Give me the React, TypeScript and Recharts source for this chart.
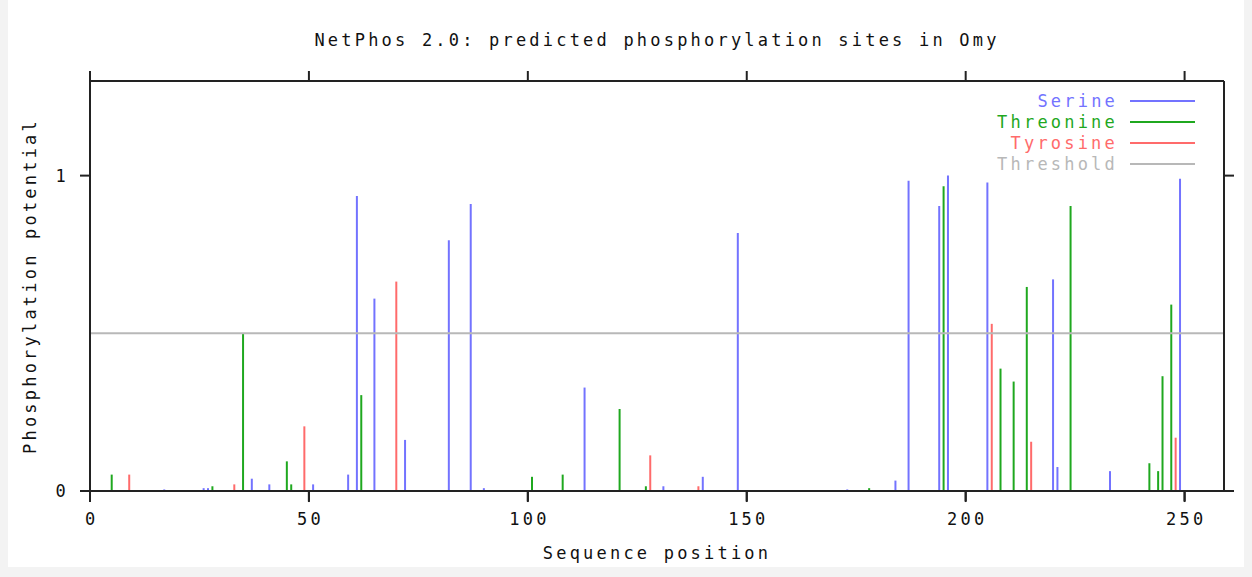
import React from 'react'
import { BarChart, Bar, XAxis, YAxis, ReferenceLine, Legend } from 'recharts'

const seqLength = 259
const threshold = 0.5

const serinePos = [17, 26, 27, 37, 41, 51, 59, 61, 65, 72, 82, 87, 90, 113, 131, 140, 148, 173, 184, 187, 194, 196, 205, 220, 221, 233, 249]
const serineScore = [0.005, 0.009, 0.009, 0.039, 0.021, 0.021, 0.052, 0.935, 0.61, 0.162, 0.795, 0.91, 0.009, 0.328, 0.015, 0.045, 0.818, 0.005, 0.033, 0.984, 0.904, 1.0, 0.978, 0.671, 0.076, 0.063, 0.99]

const threoninePos = [5, 28, 35, 45, 46, 62, 101, 108, 121, 127, 178, 195, 208, 211, 214, 224, 242, 244, 245, 247]
const threonineScore = [0.052, 0.015, 0.498, 0.094, 0.021, 0.304, 0.045, 0.052, 0.26, 0.015, 0.009, 0.966, 0.388, 0.347, 0.647, 0.904, 0.088, 0.063, 0.364, 0.591]

const tyrosinePos = [9, 33, 49, 70, 128, 139, 206, 215, 248]
const tyrosineScore = [0.052, 0.021, 0.205, 0.664, 0.113, 0.015, 0.53, 0.156, 0.169]

const xTicks = [0, 50, 100, 150, 200, 250]
const yTicks = [0, 1]

const COLORS = {
    serine: '#7373ff',
    threonine: '#1fa81f',
    tyrosine: '#ff6b6b',
    threshold: '#b8b8b8',
}

const FONT = '"DejaVu Sans Mono", monospace'
const FONT_SIZE = 17
const SPACING = '3.2px'
const TICK_DEPTH = 0.035 // outward bottom tick, in y units (~11px)

// one row per residue, only one of the three keys is set
const buildRows = () => {
    const rows: any[] = []
    serinePos.forEach((p, i) => rows.push({ pos: p, serine: serineScore[i] }))
    threoninePos.forEach((p, i) => rows.push({ pos: p, threonine: threonineScore[i] }))
    tyrosinePos.forEach((p, i) => rows.push({ pos: p, tyrosine: tyrosineScore[i] }))
    return rows.sort((a, b) => a.pos - b.pos)
}

const data = buildRows()

const legendItems = [
    { name: 'Serine', color: COLORS.serine },
    { name: 'Threonine', color: COLORS.threonine },
    { name: 'Tyrosine', color: COLORS.tyrosine },
    { name: 'Threshold', color: COLORS.threshold },
]

const XTick = ({ x, y, payload }: any) => (
    <text x={x + 1.6} y={y + 22} textAnchor="middle" fontFamily={FONT} fontSize={FONT_SIZE} letterSpacing={SPACING} fill="#111">
        {payload.value}
    </text>
)

const YTick = ({ x, y, payload }: any) => (
    <text x={x - 9} y={y + 6} textAnchor="end" fontFamily={FONT} fontSize={FONT_SIZE} letterSpacing={SPACING} fill="#111">
        {payload.value}
    </text>
)

const NoTick = () => <g />

const LegendBox = () => (
    <svg width={220} height={90}>
        {legendItems.map((item, i) => (
            <g key={item.name}>
                <text x={133} y={13 + i * 21 + 6} textAnchor="end" fontFamily={FONT} fontSize={FONT_SIZE} letterSpacing={SPACING} fill={item.color}>
                    {item.name}
                </text>
                <line x1={145} x2={210} y1={13 + i * 21} y2={13 + i * 21} stroke={item.color} strokeWidth={2} />
            </g>
        ))}
    </svg>
)

const textStyle: React.CSSProperties = {
    position: 'absolute',
    fontFamily: FONT,
    fontSize: FONT_SIZE,
    letterSpacing: SPACING,
    color: '#111',
    whiteSpace: 'nowrap',
    lineHeight: '20px',
}

const axisCommon = {
    tickSize: 10,
    tickMargin: 2,
    stroke: '#222',
    strokeWidth: 2,
    tickLine: { stroke: '#222', strokeWidth: 2 },
    axisLine: { stroke: '#222', strokeWidth: 2 },
    interval: 0 as const,
    minTickGap: 0,
    allowDataOverflow: true,
}

export default function App() {
    return (
        <div style={{ position: 'fixed', inset: 0, background: '#f3f3f3' }}>
            <div style={{ position: 'absolute', left: 8, top: 0, width: 1236, height: 567, background: '#fff' }}>
                <div style={{ ...textStyle, left: 649, top: 30, transform: 'translateX(-50%)' }}>
                    NetPhos 2.0: predicted phosphorylation sites in Omy
                </div>
                <div style={{ ...textStyle, left: 649, top: 543, transform: 'translateX(-50%)' }}>
                    Sequence position
                </div>
                <div style={{ ...textStyle, left: 22, top: 286, transform: 'translate(-50%, -50%) rotate(-90deg)' }}>
                    Phosphorylation potential
                </div>
                <div style={{ position: 'absolute', left: 0, top: 8 }}>
                    <BarChart width={1236} height={559} data={data} margin={{ top: 72, right: 19, bottom: 75, left: 81 }}>
                        <XAxis
                            {...axisCommon}
                            dataKey="pos"
                            type="number"
                            domain={[0, seqLength]}
                            ticks={xTicks}
                            height={1}
                            tick={<XTick />}
                        />
                        <XAxis
                            {...axisCommon}
                            xAxisId="top"
                            orientation="top"
                            dataKey="pos"
                            type="number"
                            domain={[0, seqLength]}
                            ticks={xTicks}
                            height={1}
                            tick={<NoTick />}
                        />
                        <YAxis
                            {...axisCommon}
                            type="number"
                            domain={[0, 1.3]}
                            ticks={yTicks}
                            width={1}
                            tick={<YTick />}
                        />
                        <YAxis
                            {...axisCommon}
                            yAxisId="right"
                            orientation="right"
                            type="number"
                            domain={[0, 1.3]}
                            ticks={yTicks}
                            width={1}
                            tick={<NoTick />}
                        />
                        {xTicks.map((t) => (
                            <ReferenceLine
                                key={`bt-${t}`}
                                segment={[{ x: t, y: 0 }, { x: t, y: -TICK_DEPTH }]}
                                ifOverflow="visible"
                                stroke="#222"
                                strokeWidth={2}
                            />
                        ))}
                        <ReferenceLine y={threshold} stroke={COLORS.threshold} strokeWidth={2} />
                        <Bar dataKey="serine" stackId="s" fill={COLORS.serine} barSize={2} isAnimationActive={false} />
                        <Bar dataKey="threonine" stackId="s" fill={COLORS.threonine} barSize={2} isAnimationActive={false} />
                        <Bar dataKey="tyrosine" stackId="s" fill={COLORS.tyrosine} barSize={2} isAnimationActive={false} />
                        <Legend
                            layout="vertical"
                            align="center"
                            verticalAlign="middle"
                            content={<LegendBox />}
                            wrapperStyle={{ top: 80, left: 977, width: 220, height: 90 }}
                        />
                    </BarChart>
                </div>
            </div>
        </div>
    )
}
